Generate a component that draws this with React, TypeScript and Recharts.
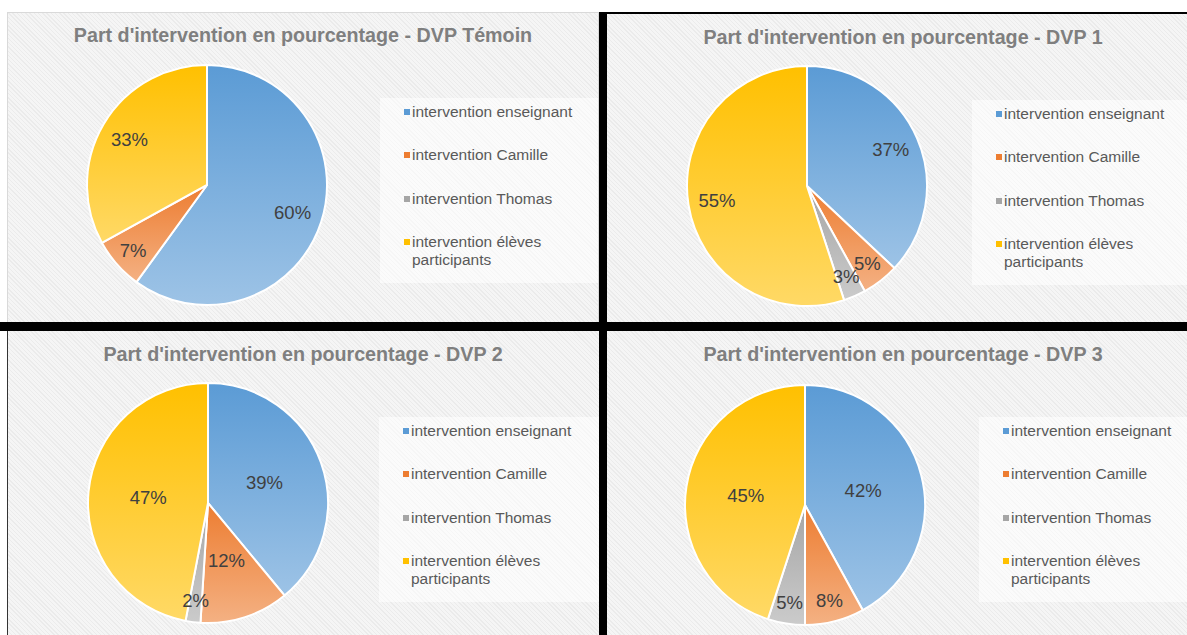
import { PieChart, Pie, Cell, Legend } from "recharts";

const CATEGORIES = [
  "intervention enseignant",
  "intervention Camille",
  "intervention Thomas",
  "intervention élèves participants",
];

const TITLE_PREFIX = "Part d'intervention en pourcentage - ";
const DVP_NAMES = ["DVP Témoin", "DVP 1", "DVP 2", "DVP 3"];

// percentages, clockwise from 12 o'clock
const TEMOIN = [60, 7, 0, 33];
const DVP1 = [37, 5, 3, 55];
const DVP2 = [39, 12, 2, 47];
const DVP3 = [42, 8, 5, 45];

const SERIES = [TEMOIN, DVP1, DVP2, DVP3];

const TOP_COLORS = ["#5b9bd5", "#ed7d31", "#a5a5a5", "#ffc000"];
const BOTTOM_COLORS = ["#9dc3e6", "#f4b183", "#cbcbcb", "#ffd966"];
const MARKERS = ["#5b9bd5", "#ed7d31", "#a5a5a5", "#ffc000"];

const FONT = "'Liberation Sans', Arial, sans-serif";
const RAD = Math.PI / 180;

// layout of the four screenshots
const PANELS = [
  { left: 7, top: 12, width: 592, height: 310, cx: 200, cy: 173, labelR: 0.75, legendX: 373 },
  { left: 607, top: 14, width: 580, height: 308, cx: 200, cy: 172, labelR: 0.76, legendX: 365 },
  { left: 7, top: 331, width: 592, height: 304, cx: 201, cy: 172, labelR: 0.5, legendX: 372 },
  { left: 607, top: 331, width: 580, height: 304, cx: 198, cy: 174, labelR: 0.5, legendX: 372 },
];

const hatch =
  "repeating-linear-gradient(45deg, #ebebeb 0px, #ebebeb 1px, #f5f5f5 1px, #f5f5f5 3px)";

function makeLabel(bigFactor: number) {
  return (props: any) => {
    const { cx, cy, midAngle, outerRadius, value, percent } = props;
    if (!value) return null;
    const f = percent < 0.1 ? 0.82 : bigFactor;
    const r = outerRadius * f;
    const x = cx + r * Math.cos(-midAngle * RAD);
    const y = cy + r * Math.sin(-midAngle * RAD);
    return (
      <text
        x={x}
        y={y}
        fill="#404040"
        fontSize={18.5}
        fontFamily={FONT}
        textAnchor="middle"
        dominantBaseline="central"
      >
        {`${value}%`}
      </text>
    );
  };
}

function LegendBox() {
  return (
    <div
      style={{
        background: "rgba(255,255,255,0.55)",
        padding: "5px 0 14px 24px",
        fontFamily: FONT,
        fontSize: 15.5,
        color: "#595959",
        lineHeight: "18px",
      }}
    >
      {CATEGORIES.map((c, i) => (
        <div
          key={c}
          style={{ display: "flex", alignItems: "flex-start", marginBottom: i < 3 ? 25.3 : 0 }}
        >
          <span
            style={{
              display: "inline-block",
              width: 6,
              height: 6,
              background: MARKERS[i],
              marginTop: 6,
              marginRight: 2,
              flex: "none",
            }}
          />
          <span style={{ maxWidth: 170 }}>{c}</span>
        </div>
      ))}
    </div>
  );
}

function Panel({ idx }: { idx: number }) {
  const p = PANELS[idx];
  const values = SERIES[idx];
  const data = CATEGORIES.map((name, i) => ({ name, value: values[i] }));
  return (
    <div
      style={{
        position: "absolute",
        left: p.left,
        top: p.top,
        width: p.width,
        height: p.height,
        background: hatch,
        overflow: "hidden",
      }}
    >
      <div
        style={{
          position: "absolute",
          left: 0,
          top: 11,
          width: 592,
          textAlign: "center",
          fontFamily: FONT,
          fontWeight: "bold",
          fontSize: 19.7,
          lineHeight: "24px",
          color: "#7f7f7f",
        }}
      >
        {TITLE_PREFIX + DVP_NAMES[idx]}
      </div>
      <PieChart
        width={p.width}
        height={p.height}
        margin={{ top: 0, right: 0, bottom: 0, left: 0 }}
        style={{ position: "absolute", left: 0, top: 0 }}
      >
        <defs>
          {TOP_COLORS.map((c, i) => (
            <linearGradient key={i} id={`g${idx}-${i}`} x1="0" y1="0" x2="0" y2="1">
              <stop offset="0%" stopColor={c} />
              <stop offset="100%" stopColor={BOTTOM_COLORS[i]} />
            </linearGradient>
          ))}
        </defs>
        <Pie
          data={data}
          dataKey="value"
          nameKey="name"
          cx={p.cx}
          cy={p.cy}
          outerRadius={120}
          startAngle={90}
          endAngle={-270}
          stroke="#ffffff"
          strokeWidth={2}
          label={makeLabel(p.labelR)}
          labelLine={false}
          isAnimationActive={false}
        >
          {data.map((d, i) => (
            <Cell key={d.name} fill={`url(#g${idx}-${i})`} />
          ))}
        </Pie>
        <Legend
          content={() => <LegendBox />}
          wrapperStyle={{ left: p.legendX, top: 86, width: p.width - p.legendX, bottom: "auto" }}
        />
      </PieChart>
    </div>
  );
}

export default function App() {
  return (
    <div
      style={{
        position: "absolute",
        left: 0,
        top: 0,
        width: 1187,
        height: 635,
        background: "#ffffff",
        overflow: "hidden",
      }}
    >
      {PANELS.map((_, i) => (
        <Panel key={i} idx={i} />
      ))}
      {/* black separators between the screenshots */}
      <div style={{ position: "absolute", left: 599, top: 12, width: 8, height: 623, background: "#000" }} />
      <div style={{ position: "absolute", left: 0, top: 322, width: 1187, height: 9, background: "#000" }} />
      <div style={{ position: "absolute", left: 607, top: 12, width: 580, height: 2, background: "#000" }} />
      <div style={{ position: "absolute", left: 7, top: 331, width: 1, height: 304, background: "#333" }} />
      <div style={{ position: "absolute", left: 7, top: 12, width: 592, height: 310, boxSizing: "border-box", border: "1px solid #d9d9d9", borderBottom: "none" }} />
    </div>
  );
}
